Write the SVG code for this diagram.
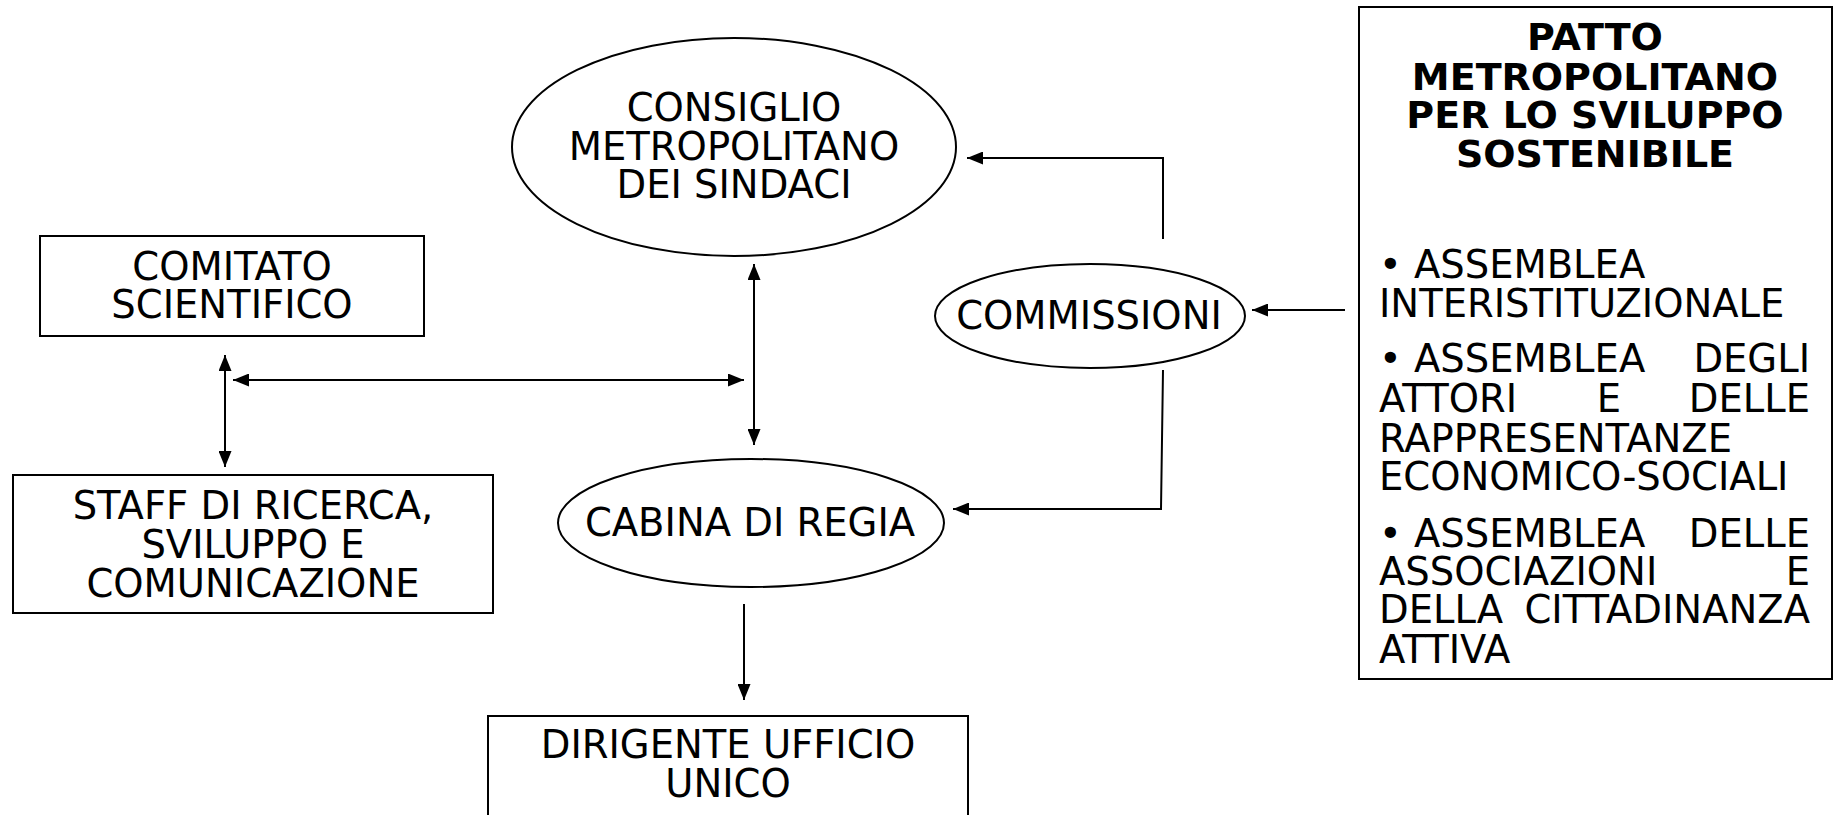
<svg xmlns="http://www.w3.org/2000/svg" width="1835" height="815" viewBox="0 0 1835 815">
<defs>
<marker id="ah" viewBox="0 0 16 13" refX="16" refY="6.5" markerWidth="16" markerHeight="13" markerUnits="userSpaceOnUse" orient="auto-start-reverse">
<path d="M0,0 L16,6.5 L0,13 Z" fill="#000"/>
</marker>
<style>
.t{font-family:Verdana,"DejaVu Sans",sans-serif;font-size:38.5px;fill:#000;}
.c{text-anchor:middle;}
.e{text-anchor:end;}
.b{font-weight:bold;font-size:38px;}
.n{fill:#fff;stroke:#000;stroke-width:2;}
.ln{fill:none;stroke:#000;stroke-width:2;}
</style>
</defs>
<rect width="1835" height="815" fill="#fff"/>
<g id="connectors">
<polyline class="ln" points="1163,239 1163,158 967,158" marker-end="url(#ah)"/>
<polyline class="ln" points="1163,370 1161,509 953,509" marker-end="url(#ah)"/>
<line class="ln" x1="1345" y1="310" x2="1252" y2="310" marker-end="url(#ah)"/>
<line class="ln" x1="754" y1="264" x2="754" y2="445" marker-start="url(#ah)" marker-end="url(#ah)"/>
<line class="ln" x1="233" y1="380" x2="744" y2="380" marker-start="url(#ah)" marker-end="url(#ah)"/>
<line class="ln" x1="225" y1="355" x2="225" y2="467" marker-start="url(#ah)" marker-end="url(#ah)"/>
<line class="ln" x1="744" y1="604" x2="744" y2="700" marker-end="url(#ah)"/>
</g>
<g id="consiglio">
<ellipse class="n" cx="734" cy="147" rx="222" ry="109"/>
<text class="t c" x="734" y="121">CONSIGLIO</text>
<text class="t c" x="734" y="160">METROPOLITANO</text>
<text class="t c" x="734" y="198">DEI SINDACI</text>
</g>
<g id="commissioni">
<ellipse class="n" cx="1090" cy="316" rx="155" ry="52"/>
<text class="t c" x="1089" y="329">COMMISSIONI</text>
</g>
<g id="cabina">
<ellipse class="n" cx="751" cy="523" rx="193" ry="64"/>
<text class="t c" x="750" y="536">CABINA DI REGIA</text>
</g>
<g id="comitato">
<rect class="n" x="40" y="236" width="384" height="100"/>
<text class="t c" x="232" y="280">COMITATO</text>
<text class="t c" x="232" y="318">SCIENTIFICO</text>
</g>
<g id="staff">
<rect class="n" x="13" y="475" width="480" height="138"/>
<text class="t c" x="253" y="519">STAFF DI RICERCA,</text>
<text class="t c" x="253" y="558">SVILUPPO E</text>
<text class="t c" x="253" y="597">COMUNICAZIONE</text>
</g>
<g id="dirigente">
<rect class="n" x="488" y="716" width="480" height="110"/>
<text class="t c" x="728" y="758">DIRIGENTE UFFICIO</text>
<text class="t c" x="728" y="797">UNICO</text>
</g>
<g id="patto">
<rect class="n" x="1359" y="7" width="473" height="672"/>
<text class="t c b" x="1595" y="50">PATTO</text>
<text class="t c b" x="1595" y="90">METROPOLITANO</text>
<text class="t c b" x="1595" y="128">PER LO SVILUPPO</text>
<text class="t c b" x="1595" y="167">SOSTENIBILE</text>
<text class="t" x="1379" y="278">• ASSEMBLEA</text>
<text class="t" x="1379" y="317">INTERISTITUZIONALE</text>
<text class="t" x="1379" y="372">• ASSEMBLEA</text>
<text class="t e" x="1810" y="372">DEGLI</text>
<text class="t" x="1379" y="412">ATTORI</text>
<text class="t c" x="1609" y="412">E</text>
<text class="t e" x="1810" y="412">DELLE</text>
<text class="t" x="1379" y="452">RAPPRESENTANZE</text>
<text class="t" x="1379" y="490">ECONOMICO-SOCIALI</text>
<text class="t" x="1379" y="547">• ASSEMBLEA</text>
<text class="t e" x="1810" y="547">DELLE</text>
<text class="t" x="1379" y="585">ASSOCIAZIONI</text>
<text class="t e" x="1810" y="585">E</text>
<text class="t" x="1379" y="623">DELLA</text>
<text class="t e" x="1810" y="623">CITTADINANZA</text>
<text class="t" x="1379" y="663">ATTIVA</text>
</g>
</svg>
